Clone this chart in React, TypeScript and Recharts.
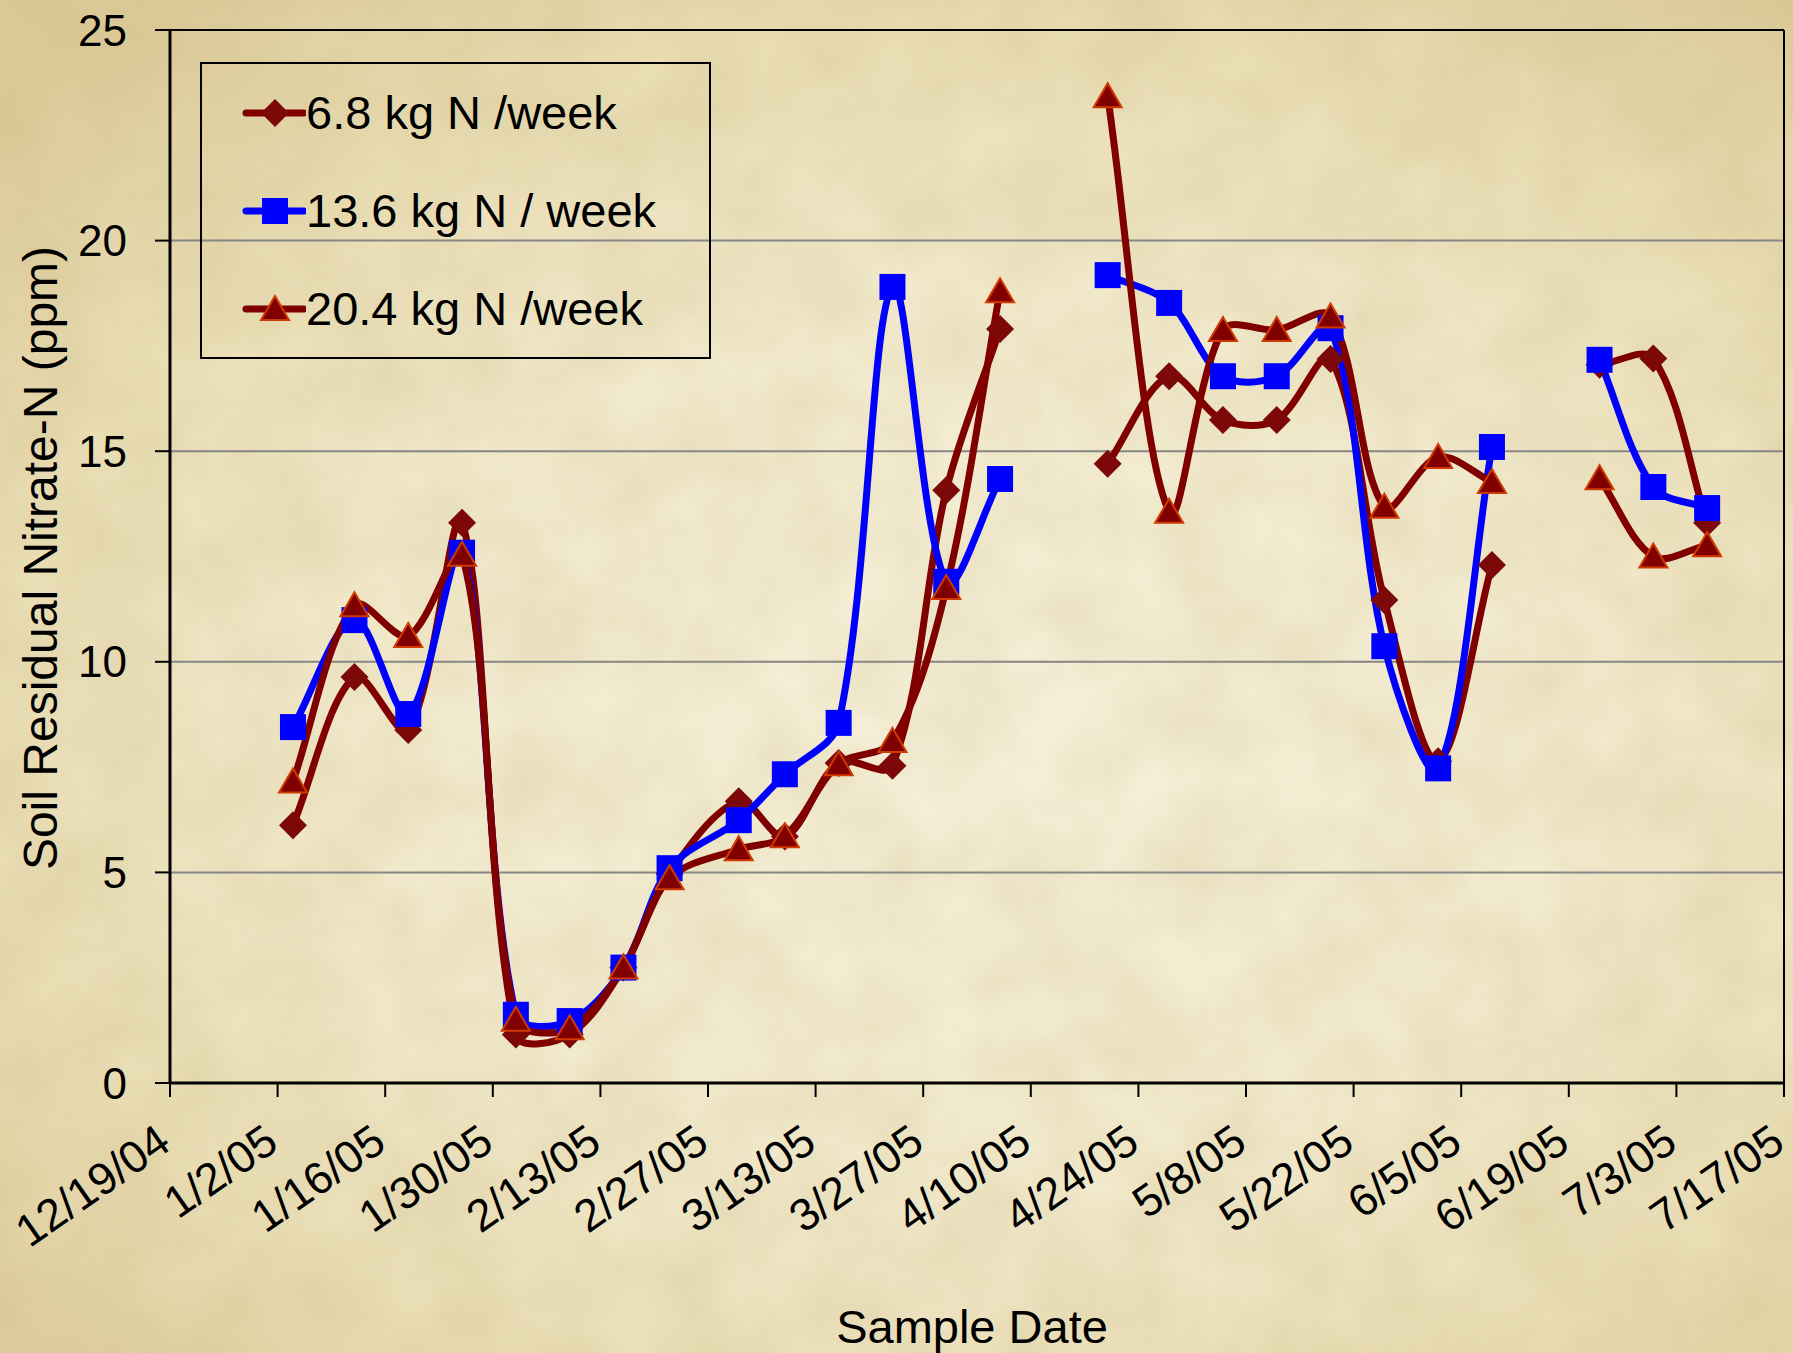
import { LineChart, Line, XAxis, YAxis, CartesianGrid, Legend, ReferenceLine } from 'recharts';

// sample dates (m/d/yy); a blank date breaks the line like an empty Excel cell
const sampleDates = [
  '1/4/05', '1/12/05', '1/19/05', '1/26/05', '2/2/05', '2/9/05', '2/16/05', '2/22/05',
  '3/3/05', '3/9/05', '3/16/05', '3/23/05', '3/30/05', '4/6/05', '4/13/05',
  '4/20/05', '4/28/05', '5/5/05', '5/12/05', '5/19/05', '5/26/05', '6/2/05', '6/9/05', '6/16/05',
  '6/23/05', '6/30/05', '7/7/05',
];

const rate68 = [
  6.12, 9.64, 8.38, 13.3, 1.15, 1.15, 2.74, 4.97, 6.69, 5.85, 7.6, 7.53, 14.07, 17.9, null,
  14.7, 16.78, 15.74, 15.74, 17.19, 11.47, 7.64, 12.3, null, 17.05, 17.2, 13.3,
];
const rate136 = [
  8.45, 10.99, 8.76, 12.59, 1.62, 1.47, 2.74, 5.1, 6.24, 7.33, 8.55, 18.9, 11.9, 14.34, null,
  19.18, 18.52, 16.78, 16.78, 17.92, 10.37, 7.47, 15.1, null, 17.17, 14.15, 13.65,
];
const rate204 = [
  7.16, 11.34, 10.61, 12.54, 1.5, 1.3, 2.74, 4.86, 5.55, 5.86, 7.57, 8.12, 11.75, 18.8, null,
  23.43, 13.56, 17.88, 17.88, 18.2, 13.68, 14.86, 14.27, null, 14.36, 12.5, 12.77,
];

const tickDates = [
  '12/19/04', '1/2/05', '1/16/05', '1/30/05', '2/13/05', '2/27/05', '3/13/05', '3/27/05',
  '4/10/05', '4/24/05', '5/8/05', '5/22/05', '6/5/05', '6/19/05', '7/3/05', '7/17/05',
];
const yTicks = [0, 5, 10, 15, 20, 25];

const seriesNames = ['6.8 kg N /week', '13.6 kg N / week', '20.4 kg N /week'];

const FONT = '"Liberation Sans", Arial, Helvetica, sans-serif';
const DARK_RED = '#800000';
const BLUE = '#0000FF';

const parseDate = (s: string) => {
  const [m, d, y] = s.split('/').map(Number);
  return Date.UTC(2000 + y, m - 1, d);
};
const origin = parseDate(tickDates[0]);
const toDay = (s: string) => Math.round((parseDate(s) - origin) / 86400000);

const data = sampleDates.map((d, i) => ({
  day: toDay(d),
  s1: rate68[i],
  s2: rate136[i],
  s3: rate204[i],
}));
const tickDays = tickDates.map(toDay);
const tickLabelByDay: Record<number, string> = {};
tickDates.forEach((t) => { tickLabelByDay[toDay(t)] = t; });

// Excel style smoothed line: bezier through each point, tangent scaled by the
// neighbouring segment lengths so short segments next to long ones don't overshoot
const excelCurve = (context: any) => {
  let pts: number[][] = [];
  const dist = (a: number[], b: number[]) => Math.hypot(b[0] - a[0], b[1] - a[1]);
  return {
    areaStart() {},
    areaEnd() {},
    lineStart() { pts = []; },
    lineEnd() {
      if (!pts.length) return;
      context.moveTo(pts[0][0], pts[0][1]);
      for (let i = 0; i < pts.length - 1; i++) {
        const p0 = pts[i - 1] || pts[i];
        const p1 = pts[i];
        const p2 = pts[i + 1];
        const p3 = pts[i + 2] || p2;
        const d01 = dist(p0, p1);
        const d12 = dist(p1, p2);
        const d23 = dist(p2, p3);
        const f1 = d01 + d12 > 0 ? d12 / (d01 + d12) / 3 : 0;
        const f2 = d12 + d23 > 0 ? d12 / (d12 + d23) / 3 : 0;
        context.bezierCurveTo(
          p1[0] + (p2[0] - p0[0]) * f1, p1[1] + (p2[1] - p0[1]) * f1,
          p2[0] - (p3[0] - p1[0]) * f2, p2[1] - (p3[1] - p1[1]) * f2,
          p2[0], p2[1],
        );
      }
    },
    point(x: number, y: number) { pts.push([+x, +y]); },
  };
};

const Diamond = ({ cx, cy }: { cx: number; cy: number }) => (
  <path d={`M${cx},${cy - 14}L${cx + 14},${cy}L${cx},${cy + 14}L${cx - 14},${cy}Z`} fill="#7d0808" />
);
const Square = ({ cx, cy }: { cx: number; cy: number }) => (
  <rect x={cx - 13} y={cy - 13} width={26} height={26} fill={BLUE} />
);
const Triangle = ({ cx, cy }: { cx: number; cy: number }) => (
  <path d={`M${cx},${cy - 13}L${cx + 14},${cy + 11}L${cx - 14},${cy + 11}Z`} fill={DARK_RED} stroke="#D03A00" strokeWidth={2} />
);

const markers = [Diamond, Square, Triangle];
const lineColors = [DARK_RED, BLUE, DARK_RED];

const makeDot = (Marker: any) => (props: any) => {
  const { cx, cy, value, index } = props;
  if (value == null || cx == null || cy == null || isNaN(cx) || isNaN(cy)) {
    return <g key={`e-${index}`} />;
  }
  return <g key={`m-${index}`}><Marker cx={cx} cy={cy} /></g>;
};

const DateTick = (props: any) => {
  const { x, y, payload } = props;
  const ax = x + 3;
  const ay = y + 49;
  return (
    <text
      x={ax}
      y={ay}
      transform={`rotate(-35 ${ax} ${ay})`}
      textAnchor="end"
      fontSize={45}
      fontFamily={FONT}
      fill="#000"
    >
      {tickLabelByDay[payload.value]}
    </text>
  );
};

const LegendBox = () => (
  <div
    style={{
      position: 'relative',
      width: 507,
      height: 293,
      border: '2px solid #000',
      fontFamily: FONT,
    }}
  >
    {seriesNames.map((name, i) => {
      const Marker = markers[i];
      return (
        <div
          key={name}
          style={{ position: 'absolute', left: 0, top: 19 + i * 98, height: 60, display: 'flex', alignItems: 'center' }}
        >
          <svg width={104} height={60}>
            <line x1={44} y1={30} x2={102} y2={30} stroke={lineColors[i]} strokeWidth={7} strokeLinecap="round" />
            <Marker cx={73} cy={30} />
          </svg>
          <span style={{ fontSize: 47, color: '#000', whiteSpace: 'nowrap', lineHeight: '60px' }}>{name}</span>
        </div>
      );
    })}
  </div>
);

export default function App() {
  return (
    <div
      style={{
        position: 'absolute',
        left: 0,
        top: 0,
        width: 1793,
        height: 1353,
        overflow: 'hidden',
        background:
          'radial-gradient(ellipse 75% 70% at 55% 55%, #F6F0D9 0%, #F2EACD 45%, #E9DDB4 75%, #DCCA98 100%)',
      }}
    >
      {/* parchment texture */}
      <svg width={1793} height={1353} style={{ position: 'absolute', left: 0, top: 0 }}>
        <filter id="paper">
          <feTurbulence type="fractalNoise" baseFrequency="0.012" numOctaves={4} seed={7} />
          <feColorMatrix
            type="matrix"
            values="0 0 0 0 0.55  0 0 0 0 0.45  0 0 0 0 0.2  0 0 0 0.35 -0.08"
          />
        </filter>
        <rect width={1793} height={1353} filter="url(#paper)" />
      </svg>
      <div style={{ position: 'absolute', left: 0, top: 0 }}>
        <LineChart
          width={1793}
          height={1353}
          data={data}
          margin={{ top: 30, right: 9, left: 0, bottom: 0 }}
          style={{ fontFamily: FONT }}
        >
          <CartesianGrid horizontal vertical={false} stroke="#868686" strokeWidth={2} />
          <XAxis
            dataKey="day"
            type="number"
            domain={[0, tickDays[tickDays.length - 1]]}
            ticks={tickDays}
            interval={0}
            height={270}
            tickSize={14}
            axisLine={{ stroke: '#000', strokeWidth: 3 }}
            tickLine={{ stroke: '#000', strokeWidth: 2 }}
            tick={<DateTick />}
            label={{
              content: () => (
                <text x={972} y={1343} textAnchor="middle" fontSize={47} fontFamily={FONT} fill="#000">
                  Sample Date
                </text>
              ),
            }}
          />
          <YAxis
            domain={[0, 25]}
            ticks={yTicks}
            interval={0}
            width={170}
            tickSize={15}
            tickMargin={28}
            axisLine={{ stroke: '#000', strokeWidth: 3 }}
            tickLine={{ stroke: '#000', strokeWidth: 2 }}
            tick={{ fontSize: 44, fill: '#000', fontFamily: FONT }}
            label={{
              content: () => (
                <text
                  x={57}
                  y={558}
                  transform="rotate(-90 57 558)"
                  textAnchor="middle"
                  fontSize={48}
                  fontFamily={FONT}
                  fill="#000"
                >
                  Soil Residual Nitrate-N (ppm)
                </text>
              ),
            }}
          />
          <ReferenceLine y={25} stroke="#000" strokeWidth={2} />
          <ReferenceLine x={tickDays[tickDays.length - 1]} stroke="#000" strokeWidth={2} />
          <Legend
            layout="vertical"
            align="center"
            verticalAlign="middle"
            content={<LegendBox />}
            wrapperStyle={{ left: 200, top: 62, width: 511, height: 297 }}
          />
          <Line
            dataKey="s1"
            name={seriesNames[0]}
            type={excelCurve as any}
            stroke={DARK_RED}
            strokeWidth={7}
            strokeLinejoin="round"
            dot={makeDot(Diamond)}
            activeDot={false}
            isAnimationActive={false}
          />
          <Line
            dataKey="s2"
            name={seriesNames[1]}
            type={excelCurve as any}
            stroke={BLUE}
            strokeWidth={7}
            strokeLinejoin="round"
            dot={makeDot(Square)}
            activeDot={false}
            isAnimationActive={false}
          />
          <Line
            dataKey="s3"
            name={seriesNames[2]}
            type={excelCurve as any}
            stroke={DARK_RED}
            strokeWidth={7}
            strokeLinejoin="round"
            dot={makeDot(Triangle)}
            activeDot={false}
            isAnimationActive={false}
          />
        </LineChart>
      </div>
    </div>
  );
}
